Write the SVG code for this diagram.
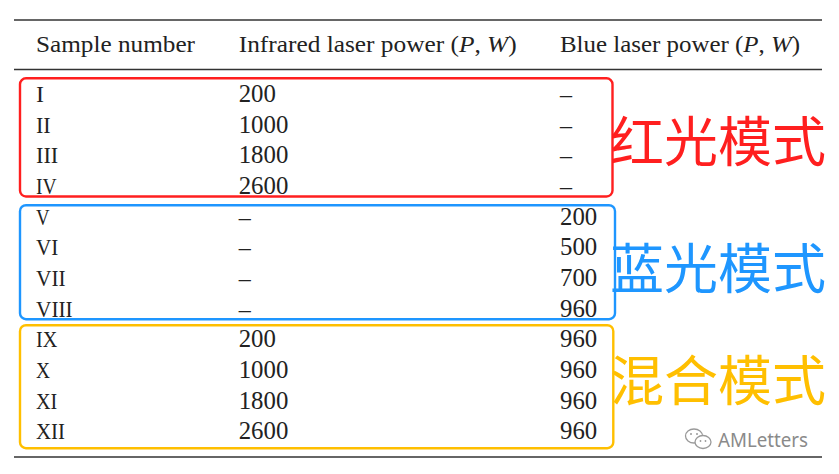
<svg xmlns="http://www.w3.org/2000/svg" width="839" height="474" viewBox="0 0 839 474">
<style>
.t{font-family:"Liberation Serif","Times New Roman",serif;font-size:24px;fill:#222}
.n{font-size:24.8px}
.i{font-style:italic}
.rule{stroke:#333;stroke-width:1.4}
.box{fill:none;stroke-width:2.4}
.cn{font-family:"Noto Sans CJK SC","Noto Sans",sans-serif;font-size:54px}
.wm{font-family:"Noto Sans","Liberation Sans",sans-serif;font-size:20px;fill:#8a8a8a}
</style>
<rect width="839" height="474" fill="#fff"/>
<g id="rules">
<line class="rule" x1="14" y1="20" x2="822" y2="20"/>
<line class="rule" x1="14" y1="69.5" x2="822" y2="69.5"/>
<line class="rule" x1="14" y1="457" x2="822" y2="457"/>
</g>
<g id="header">
<text class="t" x="36" y="52" textLength="159" lengthAdjust="spacingAndGlyphs">Sample number</text>
<text class="t" x="238.7" y="52" textLength="278" lengthAdjust="spacingAndGlyphs">Infrared laser power (<tspan class="i">P</tspan>, <tspan class="i">W</tspan>)</text>
<text class="t" x="560" y="52" textLength="240" lengthAdjust="spacingAndGlyphs">Blue laser power (<tspan class="i">P</tspan>, <tspan class="i">W</tspan>)</text>
</g>
<g id="col-sample">
<text class="t" x="36" y="102">I</text>
<text class="t" x="36" y="132.5" textLength="14.7" lengthAdjust="spacingAndGlyphs">II</text>
<text class="t" x="36" y="163" textLength="22.3" lengthAdjust="spacingAndGlyphs">III</text>
<text class="t" x="36" y="193.7" textLength="20.7" lengthAdjust="spacingAndGlyphs">IV</text>
<text class="t" x="36" y="224.5" textLength="13.6" lengthAdjust="spacingAndGlyphs">V</text>
<text class="t" x="36" y="255.2" textLength="22.3" lengthAdjust="spacingAndGlyphs">VI</text>
<text class="t" x="36" y="286" textLength="29.7" lengthAdjust="spacingAndGlyphs">VII</text>
<text class="t" x="36" y="316.6" textLength="36.7" lengthAdjust="spacingAndGlyphs">VIII</text>
<text class="t" x="36" y="347.3" textLength="21.3" lengthAdjust="spacingAndGlyphs">IX</text>
<text class="t" x="36" y="378" textLength="14" lengthAdjust="spacingAndGlyphs">X</text>
<text class="t" x="36" y="408.7" textLength="21.3" lengthAdjust="spacingAndGlyphs">XI</text>
<text class="t" x="36" y="439.4" textLength="29" lengthAdjust="spacingAndGlyphs">XII</text>
</g>
<g id="col-infrared">
<text class="t n" x="238.7" y="102">200</text>
<text class="t n" x="238.7" y="132.5">1000</text>
<text class="t n" x="238.7" y="163">1800</text>
<text class="t n" x="238.7" y="193.7">2600</text>
<text class="t" x="238.7" y="224.5">–</text>
<text class="t" x="238.7" y="255.2">–</text>
<text class="t" x="238.7" y="286">–</text>
<text class="t" x="238.7" y="316.6">–</text>
<text class="t n" x="238.7" y="347.3">200</text>
<text class="t n" x="238.7" y="378">1000</text>
<text class="t n" x="238.7" y="408.7">1800</text>
<text class="t n" x="238.7" y="439.4">2600</text>
</g>
<g id="col-blue">
<text class="t" x="560" y="102">–</text>
<text class="t" x="560" y="132.5">–</text>
<text class="t" x="560" y="163">–</text>
<text class="t" x="560" y="193.7">–</text>
<text class="t n" x="560" y="224.5">200</text>
<text class="t n" x="560" y="255.2">500</text>
<text class="t n" x="560" y="286">700</text>
<text class="t n" x="560" y="316.6">960</text>
<text class="t n" x="560" y="347.3">960</text>
<text class="t n" x="560" y="378">960</text>
<text class="t n" x="560" y="408.7">960</text>
<text class="t n" x="560" y="439.4">960</text>
</g>
<g id="red-mode">
<rect class="box" x="20" y="78.3" width="592.5" height="118.2" rx="6" stroke="#ff1f1f"/>
<text class="cn" x="610" y="161.5" fill="#ff1f1f">红光模式</text>
</g>
<g id="blue-mode">
<rect class="box" x="20" y="205.2" width="595" height="114" rx="6" stroke="#1e96ff"/>
<text class="cn" x="610" y="288.5" fill="#1e96ff">蓝光模式</text>
</g>
<g id="yellow-mode">
<rect class="box" x="20" y="325.2" width="593.3" height="123" rx="6" stroke="#ffbf00"/>
<text class="cn" x="610" y="400.5" fill="#ffbf00">混合模式</text>
</g>
<g id="watermark" fill="none" stroke="#9a9a9a" stroke-width="1.3">
<ellipse cx="694" cy="436" rx="8.5" ry="7"/>
<ellipse cx="703" cy="442" rx="8" ry="6.5" fill="#fff"/>
<circle cx="691" cy="434" r="1" fill="#9a9a9a" stroke="none"/>
<circle cx="697" cy="434" r="1" fill="#9a9a9a" stroke="none"/>
<circle cx="700.5" cy="441" r="0.9" fill="#9a9a9a" stroke="none"/>
<circle cx="705.5" cy="441" r="0.9" fill="#9a9a9a" stroke="none"/>
<text class="wm" x="718" y="447" stroke="none" textLength="90" lengthAdjust="spacingAndGlyphs">AMLetters</text>
</g>
</svg>
